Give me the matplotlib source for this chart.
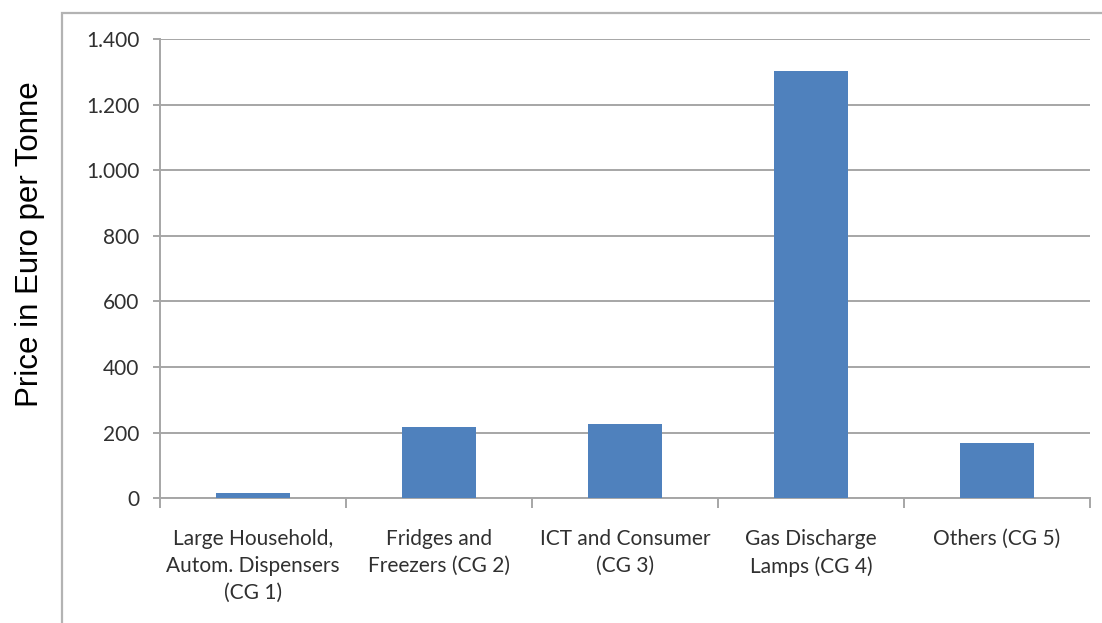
import matplotlib
matplotlib.use("Agg")
import matplotlib.pyplot as plt
from matplotlib.patches import Rectangle
import numpy as np

categories = ["Large Household,\nAutom. Dispensers\n(CG 1)",
              "Fridges and\nFreezers (CG 2)",
              "ICT and Consumer\n(CG 3)",
              "Gas Discharge\nLamps (CG 4)",
              "Others (CG 5)"]
values = [17, 216, 226, 1302, 170]
yticks = [0, 200, 400, 600, 800, 1000, 1200, 1400]
ytick_labels = ["0", "200", "400", "600", "800", "1.000", "1.200", "1.400"]

W, H = 1102, 623
fig = plt.figure(figsize=(W / 100, H / 100), dpi=100)
fig.patch.set_facecolor("white")

# outer chart border
fig.patches.append(Rectangle((62 / W, -0.2), 1.2, 1.2 - 13 / H,
                             transform=fig.transFigure, fill=False,
                             edgecolor="#b3b3b3", linewidth=1.6, zorder=0))

ax = fig.add_axes([160 / W, 1 - 498.3 / H, (1090 - 160) / W, (498.3 - 39) / H])
x = np.arange(len(categories))
ax.bar(x, values, width=0.4, color="#4F81BD", zorder=3)

ax.set_xlim(-0.5, len(categories) - 0.5)
ax.set_ylim(0, 1400)
ax.set_yticks(yticks)
ax.set_yticklabels(ytick_labels)
ax.yaxis.grid(True, color="#a6a6a6", linewidth=1.4, zorder=0)
ax.set_axisbelow(True)

ax.set_xticks(np.arange(-0.5, len(categories)), labels=[""] * (len(categories) + 1))
ax.set_xticks(x, minor=True)
ax.set_xticklabels(categories, minor=True, fontfamily="Lato", fontsize=15,
                   color="#303030", linespacing=1.45, va="top")
ax.tick_params(axis="x", which="minor", length=0, pad=22)
ax.tick_params(axis="x", which="major", length=7, width=1.4, color="#a6a6a6")
ax.tick_params(axis="y", length=5, width=1.4, color="#a6a6a6", pad=10,
               labelsize=15, labelcolor="#303030")
for lab in ax.get_yticklabels():
    lab.set_fontfamily("Lato")

for s in ["top", "right"]:
    ax.spines[s].set_visible(False)
for s in ["left", "bottom"]:
    ax.spines[s].set_color("#a6a6a6")
    ax.spines[s].set_linewidth(1.4)

fig.text(30 / W, 1 - 244 / H, "Price in Euro per Tonne", rotation=90,
         ha="center", va="center", fontfamily="Liberation Sans", fontsize=22.5,
         color="black")

fig.savefig("out.png", dpi=100)
